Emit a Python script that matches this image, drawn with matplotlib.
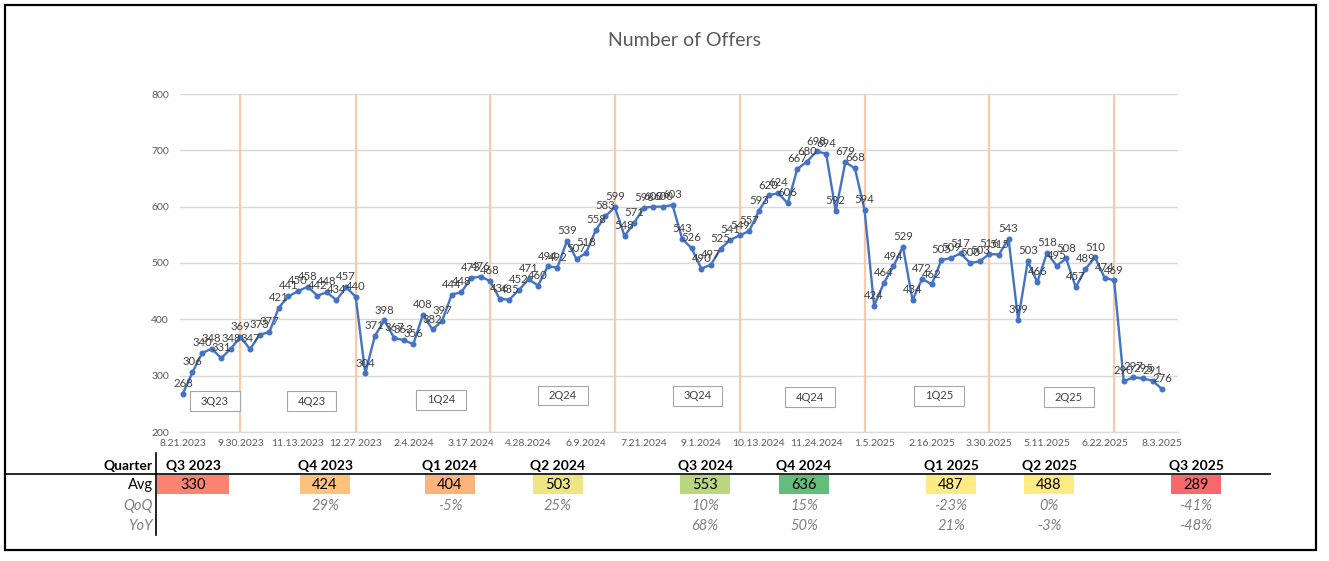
import matplotlib.pyplot as plt
import numpy as np
from matplotlib.colors import LinearSegmentedColormap, TwoSlopeNorm
from matplotlib.lines import Line2D
from matplotlib.patches import Rectangle

plt.rcParams["font.family"] = ["Lato", "DejaVu Sans"]

# weekly number of offers
offers = [
    268, 306, 340, 348, 331, 348, 369, 347, 373, 377, 421, 441, 450, 458, 442,
    448, 434, 457, 440, 304, 371, 398, 367, 363, 356, 408, 382, 397, 444, 448,
    473, 476, 468, 436, 435, 452, 471, 460, 494, 492, 539, 507, 518, 558, 583,
    599, 548, 571, 598, 600, 600, 603, 543, 526, 490, 497, 525, 541, 549, 557,
    593, 620, 624, 606, 667, 680, 698, 694, 592, 679, 668, 594, 424, 464, 494,
    529, 434, 472, 462, 505, 509, 517, 500, 503, 516, 515, 543, 399, 503, 466,
    518, 495, 508, 457, 489, 510, 474, 469, 290, 297, 295, 291, 276,
]
tick_labels = [
    "8.21.2023", "9.30.2023", "11.13.2023", "12.27.2023", "2.4.2024",
    "3.17.2024", "4.28.2024", "6.9.2024", "7.21.2024", "9.1.2024",
    "10.13.2024", "11.24.2024", "1.5.2025", "2.16.2025", "3.30.2025",
    "5.11.2025", "6.22.2025", "8.3.2025",
]
tick_step = 6
quarter_starts = [6, 18, 32, 45, 58, 71, 84, 97]
box_labels = ["3Q23", "4Q23", "1Q24", "2Q24", "3Q24", "4Q24", "1Q25", "2Q25"]

# quarterly summary table
table_quarters = ["Q3 2023", "Q4 2023", "Q1 2024", "Q2 2024", "Q3 2024",
                  "Q4 2024", "Q1 2025", "Q2 2025", "Q3 2025"]
table_avg = [330, 424, 404, 503, 553, 636, 487, 488, 289]
table_qoq = ["", "29%", "-5%", "25%", "10%", "15%", "-23%", "0%", "-41%"]
table_yoy = ["", "", "", "", "68%", "50%", "21%", "-3%", "-48%"]

# layout (pixels)
W, H = 1329, 561
box_pos = [(3.3, 255), (13.4, 255), (26.9, 257), (39.6, 265), (53.6, 264),
           (65.3, 262), (78.8, 264), (92.3, 262)]
col_x = [193, 325, 450, 558, 705, 804, 951, 1049, 1196]
col_w = [72, 50, 50, 50, 50, 50, 50, 50, 50]


def fx(px):
    return px / W


def fy(py):
    return 1 - py / H


fig = plt.figure(figsize=(W / 100, H / 100), dpi=100)
ax = fig.add_axes((fx(180), fy(432), fx(1178) - fx(180), fy(94) - fy(432)))

x = np.arange(len(offers))
ax.plot(x, offers, color="#4472C4", lw=1.7, marker="o", ms=3.3, zorder=3)
for xi, v in zip(x, offers):
    ax.annotate(str(v), (xi, v), xytext=(0, 3.5), textcoords="offset points",
                ha="center", va="bottom", fontsize=8.2, color="#404040",
                zorder=4)

for q in quarter_starts:
    ax.axvline(q, color="#F8CBAD", lw=1.6, zorder=1)

# quarter name boxes
for (bx, by), lab in zip(box_pos, box_labels):
    ax.add_patch(Rectangle((bx - 2.6, by - 17.5), 5.2, 35, facecolor="white",
                           edgecolor="#A6A6A6", lw=0.8, zorder=5))
    ax.text(bx, by, lab, ha="center", va="center", fontsize=8,
            color="#404040", zorder=6)

ax.set_xlim(-0.3, len(offers) - 1 + 1.65)
ax.set_ylim(200, 800)
ax.set_yticks(range(200, 801, 100))
ax.yaxis.grid(True, color="#D9D9D9", lw=1)
ax.set_axisbelow(True)
ax.set_xticks(x[::tick_step])
ax.set_xticklabels(tick_labels)
ax.tick_params(length=0, labelsize=7.5, labelcolor="#595959")
ax.tick_params(axis="y", pad=8)
ax.tick_params(axis="x", pad=5)
for s in ["top", "right", "left"]:
    ax.spines[s].set_visible(False)
ax.spines["bottom"].set_color("#D9D9D9")

fig.text(fx(684), fy(40), "Number of Offers", ha="center", va="center",
         fontsize=14, color="#595959")

# table below the chart
fig.add_artist(Line2D([fx(5), fx(1270)], [fy(474), fy(474)], color="black",
                      lw=1.2))
fig.add_artist(Line2D([fx(156), fx(156)], [fy(453), fy(535)], color="black",
                      lw=1.2))
fig.text(fx(153), fy(466), "Quarter", ha="right", va="center", fontsize=10,
         fontweight="bold")
fig.text(fx(153), fy(485), "Avg", ha="right", va="center", fontsize=10.5)
fig.text(fx(153), fy(506), "QoQ", ha="right", va="center", fontsize=10.5,
         style="italic", color="#808080")
fig.text(fx(153), fy(526), "YoY", ha="right", va="center", fontsize=10.5,
         style="italic", color="#808080")

cmap = LinearSegmentedColormap.from_list("scale", ["#F8696B", "#FFEB84", "#63BE7B"])
norm = TwoSlopeNorm(vmin=min(table_avg), vcenter=float(np.median(table_avg)),
                    vmax=max(table_avg))
for cx, cw, qn, av, qq, yy in zip(col_x, col_w, table_quarters, table_avg,
                                  table_qoq, table_yoy):
    fig.text(fx(cx), fy(466), qn, ha="center", va="center", fontsize=10,
             fontweight="bold")
    fig.add_artist(Rectangle((fx(cx - cw / 2), fy(494)), cw / W, 19 / H,
                             transform=fig.transFigure, facecolor=cmap(norm(av)),
                             edgecolor="none"))
    fig.text(fx(cx), fy(485), str(av), ha="center", va="center", fontsize=10.5)
    fig.text(fx(cx), fy(506), qq, ha="center", va="center", fontsize=10.5,
             style="italic", color="#808080")
    fig.text(fx(cx), fy(526), yy, ha="center", va="center", fontsize=10.5,
             style="italic", color="#808080")

# outer frame
fig.add_artist(Rectangle((fx(5), fy(550)), 1311 / W, 545 / H,
                         transform=fig.transFigure, fill=False,
                         edgecolor="black", lw=1.6))

fig.savefig("out.png", dpi=100)
